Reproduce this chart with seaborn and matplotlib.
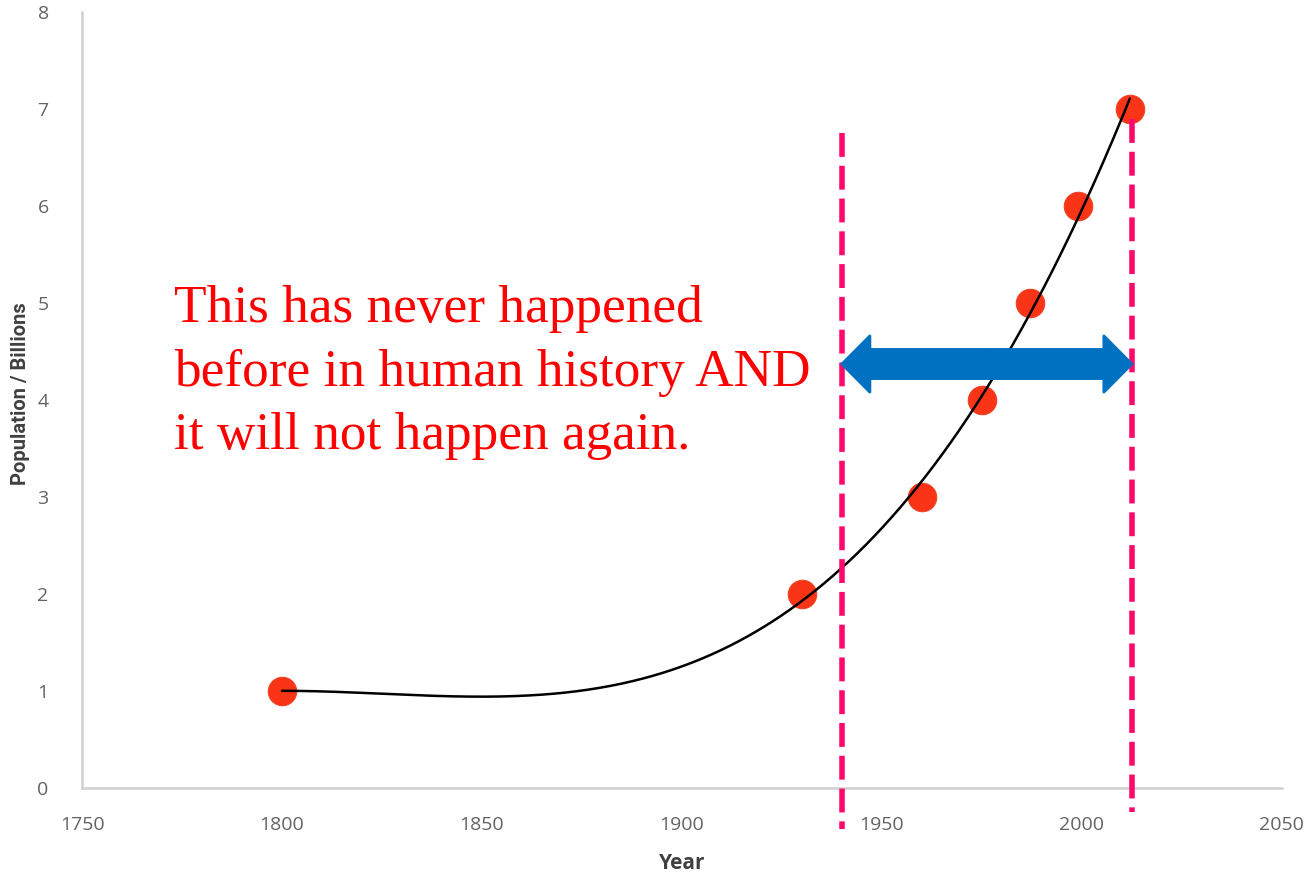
import numpy as np
import pandas as pd
import seaborn as sns
import matplotlib
matplotlib.use("Agg")
import matplotlib.pyplot as plt
from matplotlib.patches import FancyArrow

years = [1800, 1930, 1960, 1975, 1987, 1999, 2012]
population = [1, 2, 3, 4, 5, 6, 7]
x_ticks = [1750, 1800, 1850, 1900, 1950, 2000, 2050]
y_ticks = [0, 1, 2, 3, 4, 5, 6, 7, 8]
span_start, span_end = 1940, 2012.5
note = "This has never happened\nbefore in human history AND\nit will not happen again."

df = pd.DataFrame({"Year": years, "Population": population})

sns.set_theme(style="white")
plt.rcParams["font.family"] = ["Open Sans", "DejaVu Sans"]

fig = plt.figure(figsize=(13.12, 8.77), dpi=100)
ax = fig.add_axes([0.0625, 0.1015, 0.9145, 0.885])

sns.scatterplot(data=df, x="Year", y="Population", ax=ax, s=420,
                color="#fa2a0a", edgecolor="#f04020", linewidth=0.8,
                alpha=0.95, zorder=3, legend=False)

coef = np.polyfit(years, population, 3)
xs = np.linspace(min(years), max(years), 300)
sns.lineplot(x=xs, y=np.polyval(coef, xs), ax=ax, color="black",
             linewidth=1.8, zorder=4)

ax.set_xlim(1750, 2050)
ax.set_ylim(0, 8)
ax.set_xticks(x_ticks)
ax.set_yticks(y_ticks)
ax.tick_params(axis="both", length=0, labelsize=14, colors="#636363")
ax.tick_params(axis="x", pad=20)
ax.tick_params(axis="y", pad=24)
ax.set_xlabel("Year", fontsize=15, fontweight="bold", color="#404040", labelpad=14)
ax.set_ylabel("Population / Billions", fontsize=14.5, fontweight="bold",
              color="#404040", family=["Roboto", "DejaVu Sans"])
ax.yaxis.set_label_coords(-0.0435, 0.508)
for s in ["top", "right"]:
    ax.spines[s].set_visible(False)
for s in ["left", "bottom"]:
    ax.spines[s].set_color("#d0d0d0")
    ax.spines[s].set_linewidth(1.8)

# dashed vertical markers
ax.plot([span_start, span_start], [6.75, -0.42], color="#ff0a6c", lw=4,
        dashes=(4.3, 1.6), clip_on=False, zorder=5)
ax.plot([span_end, span_end], [6.9, -0.25], color="#ff0a6c", lw=4,
        dashes=(4.3, 1.6), clip_on=False, zorder=5)

# double-headed arrow
mid = (span_start + span_end) / 2
half = (span_end - span_start) / 2
for d in (half, -half):
    ax.add_patch(FancyArrow(mid, 4.37, d, 0, width=0.30, head_width=0.58,
                            head_length=7.0, length_includes_head=True,
                            color="#0070c0", joinstyle="round", lw=2, zorder=6))

ax.text(1773, 5.18, note, fontsize=38.3, color="#ff0000",
        family=["Liberation Serif", "DejaVu Serif"], va="top", ha="left",
        linespacing=1.41, zorder=7)

fig.savefig("out.png", dpi=100)
